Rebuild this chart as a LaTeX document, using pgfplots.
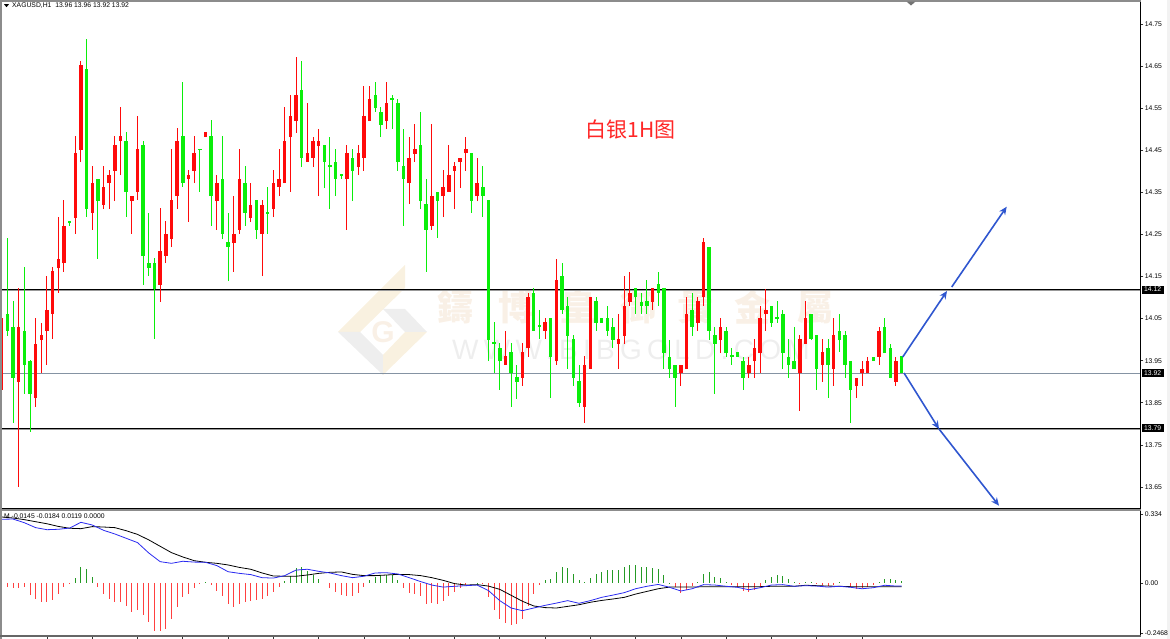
\documentclass[border=0pt]{standalone}
\usepackage{fontspec}
\usepackage{pgfplots}
\usepackage{pgfplotstable}
\pgfplotsset{compat=1.18}
\usetikzlibrary{arrows.meta}
\setmainfont{Liberation Sans}
\newfontfamily\cjk{Noto Sans CJK SC}
\newfontfamily\cjktc{Noto Sans CJK TC}
\newfontfamily\wmfont[LetterSpace=19]{Liberation Sans}
\definecolor{candred}{HTML}{FF0A0A}
\definecolor{candgreen}{HTML}{0AEE0A}
\definecolor{histred}{HTML}{FF4040}
\definecolor{histgreen}{HTML}{259A25}
\definecolor{macdblue}{HTML}{2A2AF0}
\definecolor{arrowblue}{HTML}{2F56CF}
\definecolor{lvlgray}{HTML}{8593A3}
\definecolor{wmtan}{HTML}{F9F0E6}
\definecolor{wmgray}{HTML}{EEEEEE}
\definecolor{wmgold}{HTML}{F9F1E0}

% candles: bar number, high, body top, body bottom, low
\pgfplotstableread{
i h t b l
0 14.073 14.052 13.881 13.840
3 14.123 14.030 13.900 13.650
6 14.052 13.990 13.862 13.840
7 14.040 14.011 13.999 13.921
8 14.151 14.071 14.021 13.940
9 14.173 14.163 14.061 14.002
10 14.291 14.192 14.170 14.111
11 14.332 14.270 14.182 14.161
13 14.484 14.443 14.289 14.251
14 14.662 14.652 14.451 14.422
16 14.413 14.372 14.301 14.261
18 14.413 14.363 14.320 14.310
19 14.403 14.391 14.372 14.310
20 14.484 14.462 14.401 14.329
21 14.553 14.484 14.472 14.391
23 14.341 14.341 14.329 14.251
24 14.531 14.453 14.351 14.332
28 14.313 14.211 14.130 14.090
29 14.282 14.251 14.199 14.182
30 14.453 14.332 14.239 14.220
31 14.503 14.472 14.341 14.310
33 14.403 14.391 14.382 14.280
34 14.484 14.443 14.401 14.372
36 14.493 14.493 14.481 14.481
38 14.391 14.372 14.329 14.261
41 14.341 14.251 14.230 14.161
42 14.453 14.382 14.261 14.251
44 14.372 14.320 14.289 14.280
46 14.332 14.320 14.251 14.151
48 14.403 14.372 14.310 14.291
49 14.453 14.382 14.363 14.341
50 14.553 14.472 14.372 14.372
51 14.581 14.531 14.481 14.351
52 14.671 14.581 14.519 14.491
54 14.562 14.443 14.422 14.422
55 14.481 14.472 14.432 14.410
56 14.500 14.472 14.460 14.341
61 14.462 14.443 14.382 14.261
63 14.462 14.443 14.410 14.391
64 14.603 14.531 14.432 14.401
65 14.603 14.572 14.519 14.519
68 14.612 14.562 14.519 14.500
72 14.481 14.432 14.372 14.322
73 14.512 14.453 14.441 14.422
76 14.512 14.341 14.270 14.261
78 14.403 14.363 14.341 14.291
79 14.462 14.391 14.351 14.351
80 14.422 14.413 14.401 14.310
81 14.432 14.432 14.422 14.360
82 14.481 14.453 14.443 14.401
84 14.432 14.372 14.341 14.329
89 14.021 13.961 13.940 13.940
92 13.992 13.971 13.909 13.890
93 14.111 14.101 13.980 13.959
96 14.052 14.042 14.021 14.002
98 14.192 14.142 13.949 13.940
103 13.961 13.940 13.840 13.802
104 14.101 14.101 13.930 13.930
109 14.061 14.002 13.990 13.930
110 14.151 14.080 14.009 13.990
111 14.161 14.111 14.090 14.080
115 14.123 14.123 14.090 14.071
120 13.940 13.940 13.921 13.890
121 14.101 14.061 13.930 13.930
123 14.101 14.092 14.040 14.021
124 14.242 14.232 14.101 14.080
127 14.052 14.030 13.999 13.968
132 13.959 13.940 13.921 13.909
133 14.002 13.980 13.949 13.909
134 14.080 14.052 13.968 13.921
135 14.120 14.071 14.061 14.021
141 14.011 14.002 13.921 13.831
142 14.092 14.052 13.990 13.990
145 14.002 13.971 13.940 13.900
147 14.052 14.011 13.930 13.890
151 13.909 13.909 13.890 13.862
152 13.949 13.930 13.921 13.890
153 13.959 13.949 13.921 13.921
155 14.030 14.021 13.959 13.940
158 13.959 13.949 13.900 13.890
}\redbars

\pgfplotstableread{
i h t b l
1 14.242 14.061 14.021 14.009
2 14.092 14.030 13.909 13.802
4 14.173 14.021 13.940 13.871
5 13.952 13.949 13.871 13.781
12 14.282 14.282 14.277 14.270
15 14.714 14.643 14.310 14.291
17 14.382 14.382 14.329 14.192
22 14.493 14.472 14.351 14.291
25 14.472 14.462 14.199 14.130
26 14.301 14.182 14.170 14.151
27 14.194 14.182 14.120 14.002
32 14.612 14.484 14.372 14.363
35 14.453 14.453 14.451 14.351
37 14.522 14.484 14.341 14.270
39 14.484 14.382 14.251 14.239
40 14.301 14.232 14.220 14.139
43 14.413 14.372 14.301 14.270
45 14.332 14.332 14.261 14.239
47 14.363 14.303 14.299 14.251
53 14.662 14.593 14.432 14.410
57 14.462 14.462 14.422 14.360
58 14.481 14.415 14.410 14.310
59 14.453 14.422 14.382 14.341
60 14.394 14.394 14.389 14.382
62 14.453 14.432 14.401 14.329
66 14.612 14.581 14.550 14.541
67 14.553 14.541 14.510 14.481
69 14.581 14.574 14.569 14.500
70 14.572 14.562 14.422 14.401
71 14.500 14.413 14.382 14.270
74 14.541 14.462 14.329 14.310
75 14.382 14.322 14.261 14.161
77 14.351 14.351 14.329 14.242
83 14.443 14.443 14.329 14.301
85 14.413 14.363 14.341 14.291
86 14.332 14.332 13.999 13.949
87 14.042 13.995 13.990 13.921
88 13.992 13.980 13.949 13.881
90 13.992 13.971 13.921 13.840
91 13.940 13.911 13.900 13.859
94 14.123 14.111 14.021 14.021
95 14.071 14.035 14.030 14.002
97 14.052 14.052 13.959 13.862
99 14.182 14.151 14.071 14.061
100 14.101 14.080 14.009 13.930
101 14.011 14.002 13.909 13.890
102 13.940 13.902 13.850 13.840
105 14.101 14.092 14.040 14.021
106 14.052 14.052 14.040 14.040
107 14.080 14.052 14.021 14.009
108 14.052 14.030 13.999 13.980
112 14.123 14.123 14.101 14.061
113 14.111 14.090 14.080 14.061
114 14.142 14.092 14.080 14.061
116 14.161 14.132 14.111 14.080
117 14.123 14.123 13.968 13.930
118 13.999 13.959 13.930 13.909
119 13.940 13.940 13.909 13.840
122 14.111 14.071 14.030 14.009
125 14.220 14.220 14.021 13.999
126 14.030 14.011 13.990 13.871
128 14.030 14.021 13.968 13.959
129 13.980 13.964 13.959 13.940
130 13.971 13.971 13.959 13.959
131 13.959 13.949 13.909 13.881
136 14.080 14.080 14.040 14.030
137 14.092 14.054 14.049 14.040
138 14.071 14.061 13.968 13.930
139 14.002 13.959 13.940 13.909
140 14.030 13.949 13.930 13.930
143 14.061 14.061 14.002 13.999
144 14.011 14.011 13.930 13.881
146 14.002 13.980 13.940 13.862
148 14.061 14.021 13.999 13.971
149 14.021 14.011 13.940 13.909
150 13.949 13.949 13.881 13.802
154 13.959 13.959 13.949 13.949
156 14.052 14.030 13.968 13.968
157 13.990 13.980 13.909 13.909
159 13.960 13.960 13.920 13.920
}\greenbars

% macd histogram, falling and rising parts
\pgfplotstableread{
i v
0 -.059
1 -.020
2 -.023
3 -.026
4 -.021
5 -.059
6 -.078
7 -.091
8 -.091
9 -.083
10 -.055
11 -.021
12 -.003
17 -.020
18 -.054
19 -.078
20 -.091
21 -.093
22 -.112
23 -.140
24 -.132
25 -.156
26 -.192
27 -.233
28 -.233
29 -.222
30 -.176
31 -.117
32 -.070
33 -.054
34 -.023
35 -.007
37 -.010
38 -.039
39 -.062
40 -.103
41 -.117
42 -.103
43 -.095
44 -.086
45 -.083
46 -.078
47 -.064
48 -.042
49 -.018
58 -.026
59 -.046
60 -.059
61 -.062
62 -.062
63 -.049
64 -.018
71 -.024
72 -.049
73 -.054
74 -.065
75 -.101
76 -.099
77 -.104
78 -.088
79 -.062
80 -.046
81 -.023
82 -.010
85 -.007
86 -.067
87 -.132
88 -.178
89 -.197
90 -.207
91 -.200
92 -.174
93 -.111
94 -.055
95 -.011
119 -.020
120 -.051
121 -.034
122 -.015
129 -.010
130 -.018
131 -.039
132 -.044
133 -.034
134 -.018
141 -.007
144 -.003
145 -.010
146 -.015
147 -.008
150 -.020
151 -.029
152 -.023
153 -.018
154 -.010
}\histdown

\pgfplotstableread{
i v
13 .026
14 .078
15 .068
16 .028
36 .005
50 .010
51 .036
52 .072
53 .077
54 .060
55 .041
56 .020
65 .013
66 .031
67 .037
68 .039
69 .041
70 .013
84 .002
96 .016
97 .020
98 .054
99 .078
100 .073
101 .042
102 .015
103 .003
104 .023
105 .044
106 .054
107 .064
108 .064
109 .062
110 .077
111 .088
112 .086
113 .080
114 .077
115 .073
116 .068
117 .041
118 .002
123 .003
124 .044
125 .052
126 .031
127 .024
128 .007
135 .015
136 .029
137 .041
138 .034
139 .018
140 .003
142 .005
143 .007
148 .003
155 .005
156 .020
157 .018
158 .015
159 .010
}\histup

% macd lines: i, blue, black
\pgfplotstableread{
i m s
0 .311 .322
2 .312 .317
4 .294 .309
6 .270 .299
8 .260 .289
10 .262 .276
12 .268 .267
14 .296 .265
16 .283 .275
18 .257 .273
20 .239 .270
22 .218 .255
24 .197 .237
26 .146 .210
28 .104 .179
30 .096 .148
32 .106 .127
34 .102 .109
36 .101 .101
38 .085 .096
40 .055 .088
42 .047 .076
44 .041 .067
46 .026 .049
48 .024 .034
50 .036 .033
52 .063 .033
54 .067 .039
56 .057 .047
58 .049 .052
60 .036 .054
62 .026 .042
64 .033 .036
66 .049 .036
68 .050 .039
70 .044 .042
72 .026 .041
74 .007 .036
76 -.010 .026
78 -.020 .013
80 -.016 -.003
82 -.013 -.010
84 -.010 -.008
86 -.037 -.015
88 -.086 -.031
90 -.122 -.060
92 -.135 -.089
94 -.122 -.112
96 -.109 -.120
98 -.098 -.122
100 -.086 -.114
102 -.099 -.106
104 -.086 -.094
106 -.070 -.085
108 -.059 -.078
110 -.047 -.070
112 -.028 -.054
114 -.016 -.041
116 -.007 -.028
118 -.021 -.020
120 -.039 -.020
122 -.028 -.020
124 -.008 -.018
126 -.010 -.018
128 -.016 -.018
130 -.021 -.018
132 -.033 -.018
134 -.023 -.018
136 -.010 -.016
138 -.008 -.016
140 -.016 -.016
142 -.013 -.011
144 -.015 -.013
146 -.020 -.015
148 -.016 -.016
150 -.021 -.018
152 -.028 -.018
154 -.023 -.018
156 -.011 -.018
158 -.015 -.018
159 -.015 -.018
}\macdlines

\pgfplotsset{
  tinyfont/.style={font=\fontsize{6.8}{8}\selectfont},
  panel/.style={
    scale only axis, width=1139.5pt, xmin=-0.124, xmax=201.2,
    axis line style={black,line width=0.9pt},
    tick style={black!80,line width=0.7pt},
    tick align=outside, major tick length=3pt,
    ytick pos=right, yticklabel pos=right,
    yticklabel style={tinyfont,anchor=west,inner sep=0pt,xshift=1.2pt},
    /pgf/number format/assume math mode=true,
  },
  wick/.style={draw=none,no marks,forget plot,
    error bars/.cd,y dir=plus,y explicit,error mark=none,
    error bar style={draw=#1,line width=1pt}},
  body/.style={draw=none,no marks,forget plot,
    error bars/.cd,y dir=plus,y explicit,error mark=none,
    error bar style={draw=#1,line width=3.5pt}},
}

\begin{document}
\begin{tikzpicture}[x=1pt,y=1pt]
\path[use as bounding box] (0,0) rectangle (1170,639);

% pale strip at the right edge
\fill[black!5] (1167,0) rectangle (1170,639);

% watermark under the chart
\fill[wmgold] (338,307) -- (405,374) -- (405,351) -- (360,307) -- cycle;
\fill[wmgray] (338,307) -- (360,307) -- (383,284) -- (383,264) -- cycle;
\fill[wmgold] (383,284) -- (405,307) -- (427,307) -- (383,264) -- cycle;
\fill[wmgray] (383,330) -- (405,330) -- (427,307) -- (405,307) -- cycle;
\node[text=wmtan,inner sep=0pt] at (383,307) {\fontsize{30}{30}\selectfont\bfseries G};
\foreach \cx/\ch in {455/鑄,516/博,578/皇,638/御,695/貴,752/金,815/屬}
  \node[text=wmtan,inner sep=0pt] at (\cx,332) {\fontsize{36}{36}\selectfont\cjktc\bfseries \ch};
\node[text=wmgray,inner sep=0pt] at (631,289) {\fontsize{28}{28}\selectfont\wmfont WWW.BIBGOLD.COM};

\begin{axis}[panel, name=main, at={(1pt,131pt)}, anchor=south west, height=508pt,
    ymin=13.6, ymax=14.8068, xtick=\empty,
    ytick={13.65,13.75,13.85,13.95,14.05,14.15,14.25,14.35,14.45,14.55,14.65,14.75},
    yticklabel style={/pgf/number format/fixed,/pgf/number format/fixed zerofill,/pgf/number format/precision=2}]
  \addplot[black!40,line width=0.9pt,forget plot] coordinates {(-0.124,14.1175) (201.2,14.1175)};
  \addplot[black!40,line width=0.9pt,forget plot] coordinates {(-0.124,13.7875) (201.2,13.7875)};
  \addplot[lvlgray,line width=0.9pt,forget plot] coordinates {(-0.124,13.92) (201.2,13.92)};
  \addplot[black,line width=1pt,forget plot] coordinates {(-0.124,14.12) (201.2,14.12)};
  \addplot[black,line width=1pt,forget plot] coordinates {(-0.124,13.79) (201.2,13.79)};
  \addplot[wick=candred] table[x=i,y=l,y error plus expr=\thisrow{h}-\thisrow{l}] {\redbars};
  \addplot[wick=candgreen] table[x=i,y=l,y error plus expr=\thisrow{h}-\thisrow{l}] {\greenbars};
  \addplot[body=candred] table[x=i,y=b,y error plus expr=\thisrow{t}-\thisrow{b}] {\redbars};
  \addplot[body=candgreen] table[x=i,y=b,y error plus expr=\thisrow{t}-\thisrow{b}] {\greenbars};
\end{axis}

\begin{axis}[panel, name=macd, at={(1pt,3pt)}, anchor=south west, height=126pt,
    ymin=-0.2585, ymax=0.3561, xtick pos=bottom, xticklabels={},
    xtick={8,16,24,32,40,48,56,64,72,80,88,96,104,112,120,128,136,144,152},
    ytick={-0.2468,0,0.334}, yticklabels={-0.2468,0.00,0.334}]
  \addplot[ycomb,histred,line width=1pt,forget plot] table[x=i,y=v] {\histdown};
  \addplot[ycomb,histgreen,line width=1pt,forget plot] table[x=i,y=v] {\histup};
  \addplot[black,line width=0.8pt,forget plot] table[x=i,y=s] {\macdlines};
  \addplot[macdblue,line width=0.8pt,forget plot] table[x=i,y=m] {\macdlines};
\end{axis}

% frame bits outside the axes
\fill[black!45] (0,0) rectangle (2.4,639);
\fill[black!45] (0,637.4) rectangle (1140.5,639);
\fill[black!45] (0,128) rectangle (1140.5,129.6);
\fill[black!60] (0,2.4) rectangle (1140.5,3.6);
\fill[black!55] (906.5,637.4) -- (915.5,637.4) -- (911,633.5) -- cycle;
\fill[black] (4,634.8) -- (9,634.8) -- (6.5,631.8) -- cycle;
\node[anchor=west,inner sep=0pt] at (12,633) {\fontsize{6.8}{8}\selectfont XAGUSD,H1\ \ 13.96 13.96 13.92 13.92};
\node[anchor=west,inner sep=0pt] at (4,123) {\fontsize{6.8}{8}\selectfont M -0.0145 -0.0184 0.0119 0.0000};

% price tags on the scale
\foreach \py/\lab in {349.4/14.12,265.7/13.92,211/13.79}{
  \fill[black] (1141.5,\py-4) rectangle (1164,\py+4);
  \node[text=white,inner sep=0pt] at (1152.7,\py) {\fontsize{6.8}{8}\selectfont\lab};
}

\node[text=red!85!white,inner sep=0pt] at (630.5,510) {\fontsize{21}{21}\selectfont\cjk 白银1H图};

% trend arrows
\draw[arrowblue,line width=1.6pt,-{Stealth[length=8pt,width=7pt]}] (902.7,282) -- (947,348);
\draw[arrowblue,line width=1.6pt,-{Stealth[length=8pt,width=7pt]}] (951.7,352) -- (1006.7,432.3);
\draw[arrowblue,line width=1.6pt,-{Stealth[length=8pt,width=7pt]}] (904,266) -- (939,210);
\draw[arrowblue,line width=1.6pt,-{Stealth[length=8pt,width=7pt]}] (939,210) -- (999,133.3);
\end{tikzpicture}
\end{document}
